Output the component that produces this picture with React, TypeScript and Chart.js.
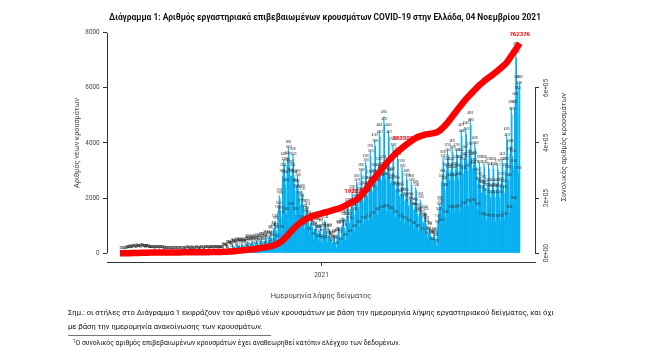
import React, { useEffect, useRef } from 'react';
import { Chart, registerables } from 'chart.js';

Chart.register(...registerables);

// Day 0 = 2020-02-26 (Wed). Rows: Mon..Sun weeks (first row Wed..Sun, last row Mon..Tue).
const dailyNewCases: number[] = [
  1, 2, 1, 0, 1,
  2, 4, 6, 12, 18, 22, 10,
  42, 50, 56, 60, 55, 46, 24,
  82, 76, 72, 70, 66, 55, 30,
  96, 90, 86, 80, 74, 62, 32,
  102, 96, 90, 84, 78, 60, 34,
  90, 86, 80, 72, 64, 42, 24,
  46, 40, 36, 32, 30, 22, 14,
  40, 36, 32, 30, 26, 20, 12,
  30, 26, 24, 20, 20, 14, 8,
  20, 18, 16, 14, 12, 10, 5,
  16, 14, 12, 12, 10, 8, 4,
  14, 12, 12, 10, 10, 7, 4,
  12, 10, 9, 8, 8, 6, 3,
  12, 11, 10, 8, 8, 6, 3,
  24, 20, 18, 16, 14, 10, 5,
  20, 18, 16, 15, 12, 10, 5,
  22, 20, 18, 16, 14, 10, 6,
  26, 22, 20, 18, 17, 12, 6,
  30, 28, 25, 22, 20, 15, 8,
  46, 40, 36, 32, 30, 22, 12,
  40, 36, 32, 30, 28, 20, 10,
  56, 50, 46, 42, 40, 30, 15,
  132, 120, 112, 104, 98, 78, 40,
  220, 204, 190, 180, 170, 130, 68,
  282, 262, 250, 240, 228, 182, 92,
  330, 304, 292, 280, 268, 210, 110,
  320, 300, 282, 270, 258, 202, 104,
  320, 345, 420, 400, 315, 280, 160,
  330, 356, 440, 418, 325, 290, 165,
  350, 378, 470, 446, 343, 308, 175,
  390, 421, 520, 494, 382, 343, 195,
  430, 464, 580, 551, 421, 378, 215,
  550, 594, 750, 712, 539, 484, 275,
  850, 918, 1150, 1092, 833, 748, 425,
  1500, 1620, 2100, 1995, 1470, 1320, 750,
  2800, 3024, 3400, 3230, 2744, 2464, 1400,
  3200, 3456, 3850, 3657, 3136, 2816, 1600,
  2800, 3024, 3600, 3420, 2744, 2464, 1400,
  2250, 2430, 2800, 2660, 2205, 1980, 1125,
  1750, 1890, 2250, 2137, 1715, 1540, 875,
  1350, 1458, 1700, 1615, 1323, 1188, 675,
  1000, 1080, 1250, 1187, 980, 880, 500,
  850, 918, 1100, 1045, 610, 748, 425,
  750, 810, 1050, 997, 420, 660, 375,
  800, 864, 1200, 1140, 784, 704, 400,
  560, 605, 850, 807, 549, 493, 280,
  400, 432, 620, 589, 392, 352, 200,
  650, 702, 950, 902, 637, 572, 325,
  950, 1026, 1300, 1235, 931, 836, 475,
  1250, 1350, 1750, 1662, 1225, 1100, 625,
  1600, 1728, 2200, 2090, 1568, 1408, 800,
  1900, 2052, 2600, 2470, 1862, 1672, 950,
  2150, 2322, 3000, 2850, 2107, 1892, 1075,
  2350, 2538, 3350, 3182, 2303, 2068, 1175,
  2550, 2754, 3700, 3515, 2499, 2244, 1275,
  2800, 3024, 4100, 3895, 2744, 2464, 1400,
  3000, 3240, 4450, 4227, 2940, 2640, 1500,
  3050, 3294, 4950, 4702, 2989, 2684, 1525,
  2900, 3132, 4450, 4227, 2842, 2552, 1450,
  2650, 2862, 3950, 3752, 2597, 2332, 1325,
  2350, 2538, 3600, 3420, 2303, 2068, 1175,
  2150, 2322, 3150, 2992, 2107, 1892, 1075,
  1950, 2106, 2800, 2660, 1911, 1716, 975,
  1800, 1944, 2600, 2470, 1764, 1584, 900,
  1600, 1728, 2400, 2280, 1568, 1408, 800,
  1350, 1458, 1950, 1852, 1323, 1188, 675,
  1100, 1188, 1500, 1425, 1078, 968, 550,
  680, 734, 900, 855, 666, 598, 340,
  540, 583, 700, 665, 529, 475, 270,
  950, 1150, 1400, 1600, 1800, 1700, 1000,
  2600, 2808, 3500, 3325, 2548, 2288, 1300,
  3000, 3240, 3750, 3562, 2940, 2640, 1500,
  3000, 3240, 3870, 3676, 2940, 2640, 1500,
  3050, 3294, 3750, 3562, 2989, 2684, 1525,
  3300, 3564, 4470, 4246, 3234, 2904, 1650,
  3400, 3672, 4540, 4313, 3332, 2992, 1700,
  3500, 3780, 4900, 4655, 3430, 3080, 1750,
  3200, 3456, 4000, 3800, 3136, 2816, 1600,
  2500, 2700, 3300, 3135, 2450, 2200, 1250,
  2400, 2592, 3300, 3135, 2352, 2112, 1200,
  2300, 2484, 3230, 3068, 2254, 2024, 1150,
  2300, 2484, 3230, 3068, 2254, 2024, 1150,
  2300, 2484, 3170, 3011, 2254, 2024, 1150,
  2500, 2700, 3420, 3249, 2450, 2200, 1250,
  3000, 3240, 4330, 4113, 2940, 2640, 1500,
  3600, 3888, 5300, 5035, 3528, 3168, 1800,
  5300, 5600, 7400, 7100, 6200, 5800, 2900,
  6000, 6200,
];

const cumulativeDays: number[] = [
  0, 7, 14, 21, 28, 35, 42, 49, 56, 63, 70, 77, 84, 91, 98, 105, 112, 119, 126, 133,
  140, 147, 154, 161, 168, 175, 182, 189, 196, 203, 210, 217, 224, 231, 238, 245, 252, 259, 266, 273,
  280, 287, 294, 301, 308, 315, 322, 329, 336, 343, 350, 357, 364, 371, 378, 385, 392, 399, 406, 413,
  420, 427, 434, 441, 448, 455, 462, 469, 476, 483, 490, 497, 504, 511, 518, 525, 532, 539, 546, 553,
  560, 567, 574, 581, 588, 595, 602, 609, 615,
];

const cumulativeCases: number[] = [
  0, 10, 100, 420, 820, 1300, 1880, 2190, 2400, 2590, 2680, 2760, 2850, 2900, 2950, 3090, 3200, 3300, 3430, 3560,
  3910, 4050, 4280, 4830, 5750, 7080, 8860, 10500, 12500, 14000, 16300, 19100, 21500, 24500, 30000, 37500, 50000, 68000, 86000, 102000,
  115000, 125000, 132000, 138000, 143000, 148000, 152000, 157000, 162000, 168000, 177000, 185000, 194000, 209000, 230000, 253000, 274000, 294000, 315000, 335000,
  352000, 368000, 382000, 395000, 407000, 418000, 425000, 430000, 433000, 436000, 442000, 456000, 474000, 495000, 517000, 538000, 558000, 576000, 593000, 610000,
  624000, 637000, 649000, 662000, 676000, 692000, 716000, 740000, 762376,
];

const milestoneDays: number[] = [361, 435, 615];
const milestoneValues: number[] = [192227, 383503, 762376];

const leftTicks: number[] = [0, 2000, 4000, 6000, 8000];
const rightTicks: number[] = [0, 200000, 400000, 600000];
const rightTickLabels: string[] = ['0e+00', '2e+05', '4e+05', '6e+05'];
const xTickDays: number[] = [310];
const xTickLabels: string[] = ['2021'];

const TITLE = 'Διάγραμμα 1: Αριθμός εργαστηριακά επιβεβαιωμένων κρουσμάτων COVID-19 στην Ελλάδα, 04 Νοεμβρίου 2021';
const LEFT_TITLE = 'Αριθμός νέων κρουσμάτων';
const RIGHT_TITLE = 'Συνολικός αριθμός κρουσμάτων';
const X_TITLE = 'Ημερομηνία λήψης δείγματος';
const NOTE_1 = 'Σημ.: οι στήλες στο Διάγραμμα 1 εκφράζουν τον αριθμό νέων κρουσμάτων με βάση την ημερομηνία λήψης εργαστηριακού δείγματος, και όχι';
const NOTE_2 = 'με βάση την ημερομηνία ανακοίνωσης των κρουσμάτων.';
const FOOTNOTE = 'Ο συνολικός αριθμός επιβεβαιωμένων κρουσμάτων έχει αναθεωρηθεί κατόπιν ελέγχου των δεδομένων.';

const FONT = 'Roboto, "Noto Sans", sans-serif';
const BAR_COLOR = '#00AEEF';
const LINE_COLOR = '#FF0000';
const AXIS_COLOR = '#333333';
const TEXT_COLOR = '#444444';

const overlayPlugin = {
  id: 'overlayPlugin',
  afterDatasetDraw(chart: any, args: any) {
    if (args.index !== 0) return;
    const ctx = chart.ctx as CanvasRenderingContext2D;
    ctx.save();
    ctx.font = `2.6px ${FONT}`;
    ctx.fillStyle = '#2a2a2a';
    ctx.textAlign = 'center';
    ctx.textBaseline = 'bottom';
    const els = args.meta.data;
    for (let i = 0; i < els.length; i++) {
      const el = els[i];
      ctx.fillText(String(dailyNewCases[i]), el.x, el.y - 3.5);
    }
    ctx.restore();
  },
  afterDraw(chart: any) {
    const ctx = chart.ctx as CanvasRenderingContext2D;
    const { chartArea, scales } = chart;
    const y = scales.y;
    const y2 = scales.y2;
    const x = scales.x;
    ctx.save();
    // R-style axis lines spanning only the tick range
    ctx.strokeStyle = AXIS_COLOR;
    ctx.lineWidth = 1;
    const lx = Math.round(chartArea.left) + 0.5;
    const rx = Math.round(chartArea.right) + 0.5;
    ctx.beginPath();
    ctx.moveTo(lx, y.getPixelForValue(leftTicks[0]));
    ctx.lineTo(lx, y.getPixelForValue(leftTicks[leftTicks.length - 1]));
    ctx.moveTo(rx, y2.getPixelForValue(rightTicks[0]));
    ctx.lineTo(rx, y2.getPixelForValue(rightTicks[rightTicks.length - 1]));
    ctx.stroke();

    // right tick labels (rotated, parallel to the axis)
    ctx.fillStyle = TEXT_COLOR;
    ctx.font = `6.5px ${FONT}`;
    ctx.textAlign = 'center';
    ctx.textBaseline = 'middle';
    rightTicks.forEach((v, i) => {
      ctx.save();
      ctx.translate(chartArea.right + 11, y2.getPixelForValue(v));
      ctx.rotate(-Math.PI / 2);
      ctx.fillText(rightTickLabels[i], 0, 0);
      ctx.restore();
    });
    // right axis title
    ctx.font = `7.4px ${FONT}`;
    ctx.save();
    ctx.translate(chartArea.right + 29, (chartArea.top + chartArea.bottom) / 2 + 4);
    ctx.rotate(-Math.PI / 2);
    ctx.fillText(RIGHT_TITLE, 0, 0);
    ctx.restore();

    // milestone labels on the cumulative line
    ctx.fillStyle = LINE_COLOR;
    ctx.font = `bold 6px ${FONT}`;
    milestoneDays.forEach((d, i) => {
      ctx.fillText(String(milestoneValues[i]), x.getPixelForValue(d), y2.getPixelForValue(milestoneValues[i]) - 9);
    });
    ctx.restore();
  },
};

export default function App() {
  const canvasRef = useRef<HTMLCanvasElement>(null);

  useEffect(() => {
    const canvas = canvasRef.current;
    if (!canvas) return;
    const chart = new Chart(canvas, {
      type: 'bar',
      data: {
        datasets: [
          {
            type: 'bar',
            label: 'Νέα κρούσματα',
            data: dailyNewCases.map((v, i) => ({ x: i, y: v })),
            backgroundColor: BAR_COLOR,
            borderWidth: 0,
            barThickness: 1.1,
            inflateAmount: 0,
            yAxisID: 'y',
            xAxisID: 'x',
            order: 1,
          } as any,
          {
            type: 'line',
            label: 'Συνολικά κρούσματα',
            data: cumulativeDays.map((d, i) => ({ x: d, y: cumulativeCases[i] })),
            borderColor: LINE_COLOR,
            backgroundColor: LINE_COLOR,
            borderWidth: 6.5,
            pointRadius: 0,
            cubicInterpolationMode: 'monotone',
            borderCapStyle: 'butt',
            borderJoinStyle: 'round',
            fill: false,
            yAxisID: 'y2',
            xAxisID: 'x',
            order: 0,
          } as any,
        ],
      },
      options: {
        responsive: false,
        animation: false,
        devicePixelRatio: 1,
        layout: { padding: 0 },
        plugins: {
          legend: { display: false },
          tooltip: { enabled: false },
          title: {
            display: true,
            text: TITLE,
            color: '#111111',
            font: { family: FONT, size: 8.4, weight: 'bold' },
            padding: { top: 12.8, bottom: 1.1 },
          },
        },
        scales: {
          x: {
            type: 'linear',
            position: 'bottom',
            offset: false,
            min: -20,
            max: 638.5,
            afterBuildTicks: (axis: any) => {
              axis.ticks = xTickDays.map((v) => ({ value: v }));
            },
            afterFit: (axis: any) => {
              axis.height = 96;
            },
            ticks: {
              autoSkip: false,
              maxRotation: 0,
              padding: 5,
              color: TEXT_COLOR,
              font: { family: FONT, size: 6.5 },
              callback: (v: any) => xTickLabels[xTickDays.indexOf(Number(v))] ?? '',
            },
            grid: { display: true, offset: false, drawOnChartArea: false, drawTicks: true, tickLength: 4, color: AXIS_COLOR },
            border: { display: true, color: AXIS_COLOR, width: 1 },
            title: {
              display: true,
              text: X_TITLE,
              color: TEXT_COLOR,
              font: { family: FONT, size: 7.4 },
              padding: { top: 0, bottom: 57.5 },
            },
          },
          y: {
            type: 'linear',
            position: 'left',
            min: -320,
            max: 8320,
            afterBuildTicks: (axis: any) => {
              axis.ticks = leftTicks.map((v) => ({ value: v }));
            },
            afterFit: (axis: any) => {
              axis.width = 107;
            },
            ticks: {
              padding: 3.5,
              color: TEXT_COLOR,
              font: { family: FONT, size: 6.3 },
              callback: (v: any) => String(v),
            },
            grid: { display: true, drawOnChartArea: false, drawTicks: true, tickLength: 4, color: AXIS_COLOR },
            border: { display: false },
            title: {
              display: true,
              text: LEFT_TITLE,
              color: TEXT_COLOR,
              font: { family: FONT, size: 7.3 },
              padding: { top: 72.8, bottom: 0 },
            },
          },
          y2: {
            type: 'linear',
            position: 'right',
            min: -32000,
            max: 832000,
            afterBuildTicks: (axis: any) => {
              axis.ticks = rightTicks.map((v) => ({ value: v }));
            },
            afterFit: (axis: any) => {
              axis.width = 115;
            },
            ticks: { display: false },
            grid: { display: true, drawOnChartArea: false, drawTicks: true, tickLength: 4, color: AXIS_COLOR },
            border: { display: false },
          },
        },
      } as any,
      plugins: [overlayPlugin],
    });
    return () => chart.destroy();
  }, []);

  return (
    <div
      style={{
        position: 'fixed',
        left: 0,
        top: 0,
        width: 650,
        height: 358,
        background: '#ffffff',
        fontFamily: FONT,
        color: '#111111',
      }}
    >
      <canvas ref={canvasRef} width={650} height={358} style={{ display: 'block', width: 650, height: 358 }} />
      <div style={{ position: 'absolute', left: 68, top: 308, fontSize: 7.6, lineHeight: '10px', whiteSpace: 'nowrap' }}>
        {NOTE_1}
      </div>
      <div style={{ position: 'absolute', left: 68, top: 322, fontSize: 7.6, lineHeight: '10px', whiteSpace: 'nowrap' }}>
        {NOTE_2}
      </div>
      <div style={{ position: 'absolute', left: 68, top: 335, width: 203, height: 1, background: '#777777' }} />
      <div style={{ position: 'absolute', left: 73, top: 339, fontSize: 6.8, lineHeight: '9px', whiteSpace: 'nowrap' }}>
        <sup style={{ fontSize: 4.5, verticalAlign: 'top', lineHeight: '6px' }}>1</sup>
        {FOOTNOTE}
      </div>
    </div>
  );
}
